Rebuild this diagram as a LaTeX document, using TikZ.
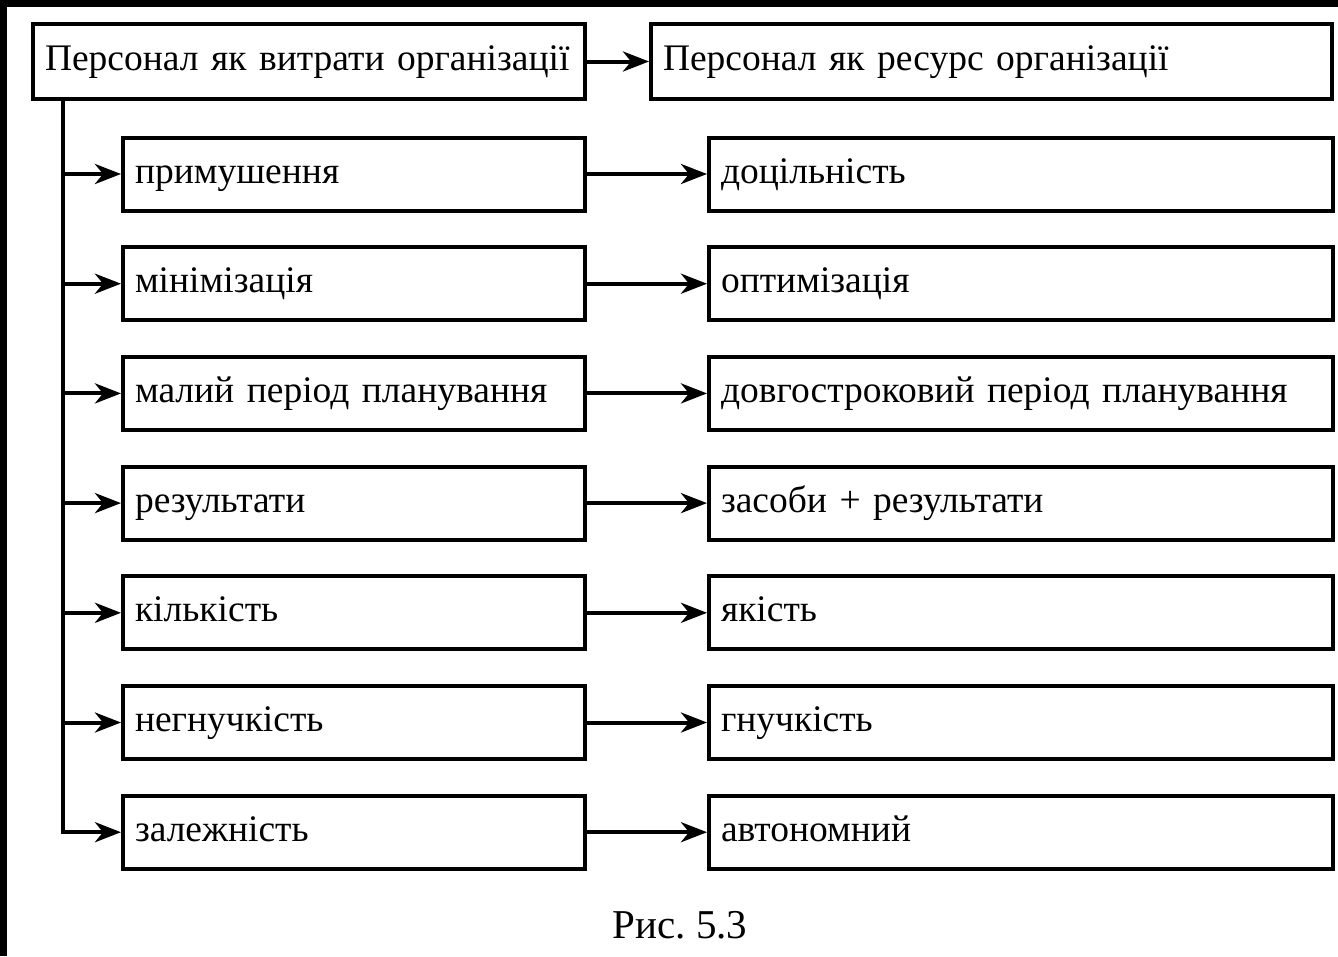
\documentclass[tikz,border=0pt]{standalone}
\usepackage{fontspec}
\setmainfont{Liberation Serif}
\usetikzlibrary{arrows.meta}
\begin{document}
\frenchspacing
\begin{tikzpicture}[x=1pt,y=-1pt,
  box/.style={draw, line width=4pt, anchor=west, minimum height=73pt,
    inner xsep=12pt, inner ysep=0pt, align=left,
    font=\fontsize{37.5}{42}\selectfont, text height=26pt, text depth=8pt},
  lbox/.style={box, text width=438pt},
  rbox/.style={box, text width=600pt},
  conn/.style={line width=4pt, -{Stealth[length=26pt,width=20pt,inset=8pt]}},
  trunkline/.style={line width=4pt}
]
\fill[black] (0,0) rectangle (1338,956);
\fill[white] (7,7) rectangle (1338,956);
\useasboundingbox (0,0) rectangle (1338,956);

\node[box, text width=528pt, minimum height=75pt] (tl) at (31,61.5) {\mbox{Персонал як витрати організації}};
\node[box, text width=657pt, minimum height=75pt] (tr) at (649,61.5) {\mbox{Персонал як ресурс організації}};
\draw[conn] (tl) -- (tr);

\coordinate (trunk) at (63,99);

\foreach \i/\l/\r in {0/примушення/доцільність,
  1/мінімізація/оптимізація,
  2/малий період планування/довгостроковий період планування,
  3/результати/засоби + результати,
  4/кількість/якість,
  5/негнучкість/гнучкість,
  6/залежність/автономний}{
  \pgfmathsetmacro{\yy}{174+109.7*\i}
  \node[lbox] (l\i) at (121,\yy) {\mbox{\l}};
  \node[rbox] (r\i) at (707,\yy) {\mbox{\r}};
  \draw[conn] (l\i) -- (r\i);
}
\foreach \i in {0,...,5}{
  \draw[conn] (l\i.west -| trunk) -- (l\i.west);
}
\draw[conn] (trunk) |- (l6.west);

\node[font=\fontsize{41}{46}\selectfont, anchor=base, inner sep=0pt] (cap) at (680,938) {Рис. 5.3};
\end{tikzpicture}
\end{document}
